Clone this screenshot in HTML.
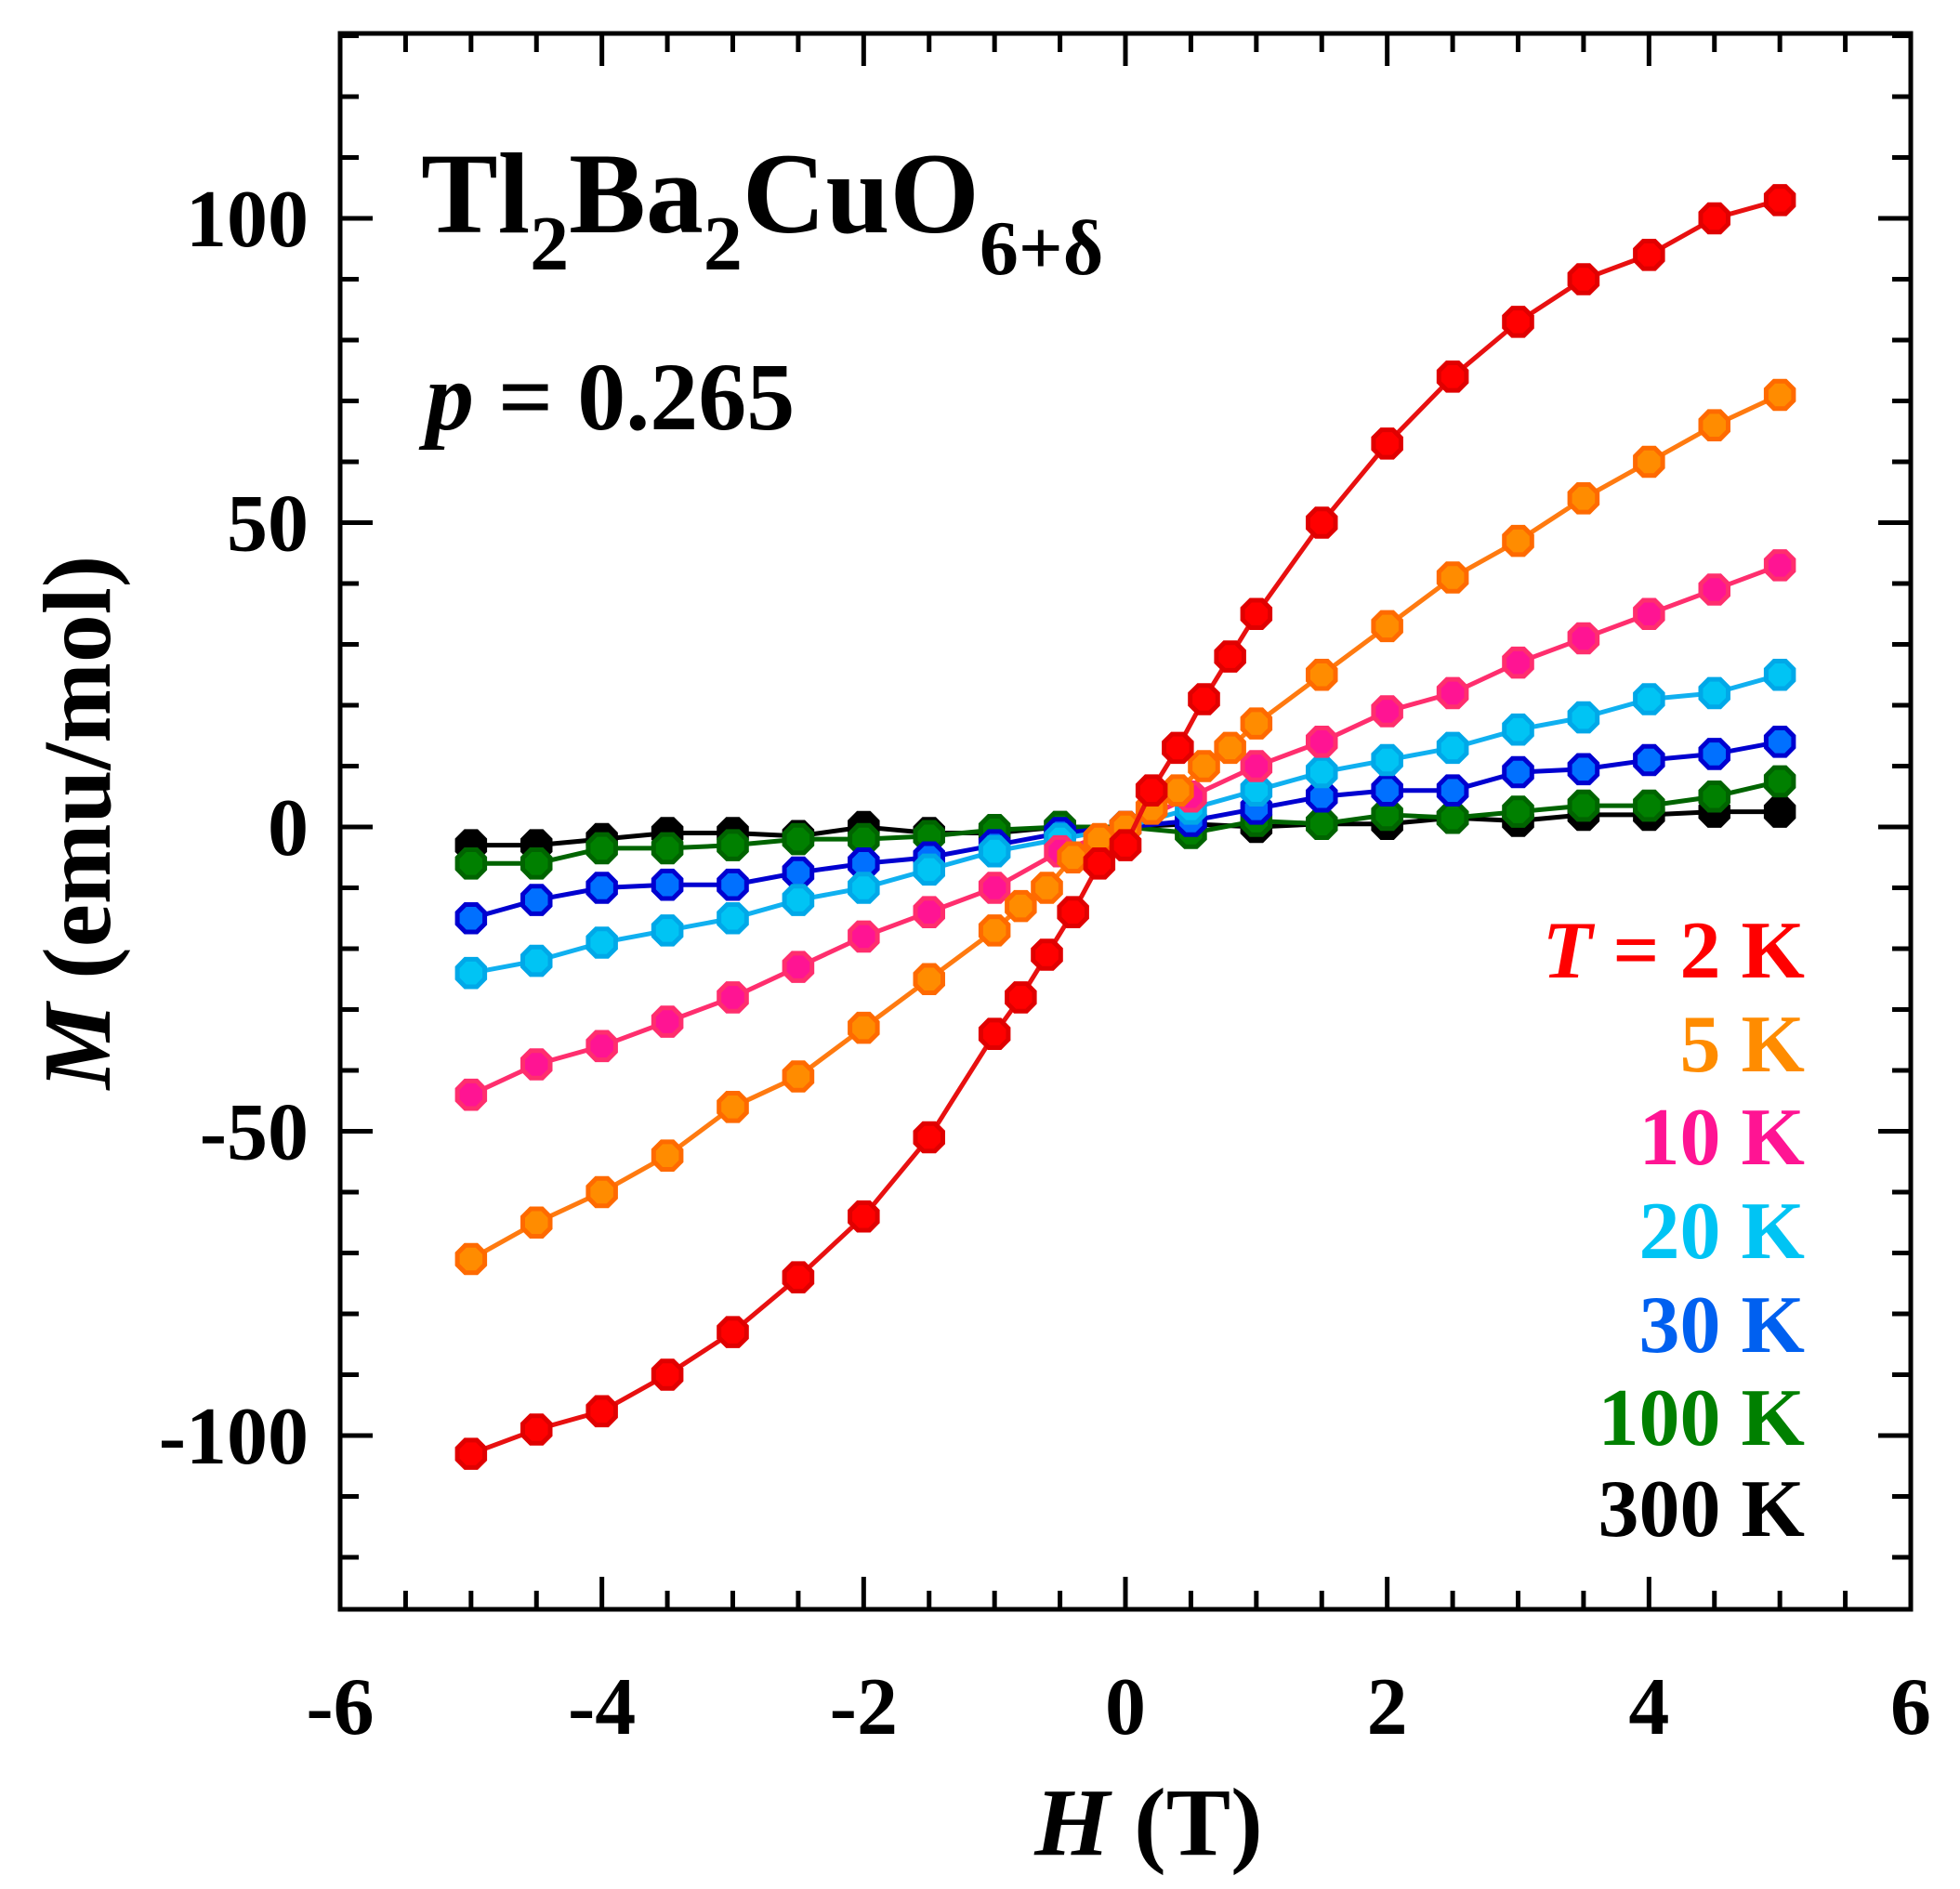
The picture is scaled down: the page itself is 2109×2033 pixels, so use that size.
<!DOCTYPE html>
<html><head><meta charset="utf-8"><style>
html,body{margin:0;padding:0;background:#fff}
svg text{font-family:"Liberation Serif",serif;font-weight:bold}
</style></head><body>
<svg id="chart" width="2109" height="2028" viewBox="0 0 2109 2028" xmlns="http://www.w3.org/2000/svg">
<g id="axes"></g>
<g id="series"></g>
<rect x="366" y="36" width="1690" height="1696" fill="none" stroke="#000" stroke-width="5"/>
<text x="453" y="250" font-size="124">Tl<tspan font-size="84" dy="40">2</tspan><tspan dy="-40">Ba</tspan><tspan font-size="84" dy="40">2</tspan><tspan dy="-40">CuO</tspan><tspan font-size="84" dy="45">6+δ</tspan></text>
<text x="458" y="462" font-size="104"><tspan font-style="italic">p</tspan> = 0.265</text>
<text x="1236" y="1996" font-size="104" text-anchor="middle"><tspan font-style="italic">H</tspan> (T)</text>
<text transform="translate(118,885) rotate(-90)" font-size="104" text-anchor="middle"><tspan font-style="italic">M</tspan> (emu/mol)</text>
<g id="legend"></g>
</svg>
<script>
const H2 = [-5,-4.5,-4,-3.5,-3,-2.5,-2,-1.5,-1,-0.8,-0.6,-0.4,-0.2,0,0.2,0.4,0.6,0.8,1,1.5,2,2.5,3,3.5,4,4.5,5];
const M2K = [-103,-99,-96,-90,-83,-74,-64,-51,-34,-28,-21,-14,-6,-3,6,13,21,28,35,50,63,74,83,90,94,100,103];
const M5K = [-71,-65,-60,-54,-46,-41,-33,-25,-17,-13,-10,-5,-2,0,3,6,10,13,17,25,33,41,47,54,60,66,71];
const H = [-5,-4.5,-4,-3.5,-3,-2.5,-2,-1.5,-1,-0.5,0,0.5,1,1.5,2,2.5,3,3.5,4,4.5,5];
const M10K = [-44,-39,-36,-32,-28,-23,-18,-14,-10,-4,0,5,10,14,19,22,27,31,35,39,43];
const M20K = [-24,-22,-19,-17,-15,-12,-10,-7,-4,-2,0,3,6,9,11,13,16,18,21,22,25];
const M30K = [-15,-12,-10,-9.5,-9.5,-7.5,-6,-5,-3,-1,0,1,3,5,6,6,9,9.5,11,12,14];
const M100K = [-6,-6,-3.5,-3.5,-3,-2,-2,-1.5,-0.5,0,0,-1,1,0.5,2,1.5,2.5,3.5,3.5,5,7.5];
const M300K = [-3,-3,-2,-1,-1,-1.5,0,-1,-1,0,0,0.5,0,0.5,0.5,1.5,1,2,2,2.5,2.5];
const xTicks = [-6,-4,-2,0,2,4,6];
const yTicks = [-100,-50,0,50,100];
const legendLabels = ["T = 2 K","5 K","10 K","20 K","30 K","100 K","300 K"];

const NS="http://www.w3.org/2000/svg";
const sx = h => 366 + (h+6)*(1690/12);
const sy = m => 890 - 6.55*m;
function mk(tag, attrs, parent){const e=document.createElementNS(NS,tag);for(const k in attrs)e.setAttribute(k,attrs[k]);parent.appendChild(e);return e;}
const axes=document.getElementById('axes');
for(let i=0;i<=24;i++){
  const h=-6+i*0.5, x=sx(h), major=(i%4===0), L=major?35:20;
  const t1=mk('line',{x1:x,x2:x,y1:1732,y2:1732-L,stroke:'#000','stroke-width':5},axes);
  
  
  const t2=mk('line',{x1:x,x2:x,y1:36,y2:36+L,stroke:'#000','stroke-width':5},axes);
  
  
}
xTicks.forEach(v=>{
  const t=mk('text',{x:sx(v),y:1866,'font-size':88,'text-anchor':'middle'},axes);
  t.textContent=String(v);
  
  
});
for(let m=-120;m<=130;m+=10){
  const y=sy(m), major=(m%50===0), L=major?35:20;
  const t1=mk('line',{x1:366,x2:366+L,y1:y,y2:y,stroke:'#000','stroke-width':5},axes);
  
  
  const t2=mk('line',{x1:2056,x2:2056-L,y1:y,y2:y,stroke:'#000','stroke-width':5},axes);
  
  
}
yTicks.forEach(v=>{
  const t=mk('text',{x:332,y:sy(v)+30,'font-size':88,'text-anchor':'end'},axes);
  t.textContent=String(v);
  
  
});
const seriesDefs=[
 {h:H,m:M300K,fill:'#000',stroke:'#000',line:'#000',name:'series-300k'},
 {h:H,m:M100K,fill:'#008000',stroke:'#006400',line:'#006400',name:'series-100k'},
 {h:H,m:M30K,fill:'#0070ff',stroke:'#0000d0',line:'#0000d0',name:'series-30k'},
 {h:H,m:M20K,fill:'#00c4f4',stroke:'#00a8e8',line:'#10b0f0',name:'series-20k'},
 {h:H,m:M10K,fill:'#ff1493',stroke:'#ff2e6e',line:'#ff2e6e',name:'series-10k'},
 {h:H2,m:M5K,fill:'#ff8c00',stroke:'#ff6a00',line:'#ff7a10',name:'series-5k'},
 {h:H2,m:M2K,fill:'#ff0000',stroke:'#e00000',line:'#e81010',name:'series-2k'}
];
const sg=document.getElementById('series');
function oct(cx,cy,r){let p=[];for(let k=0;k<8;k++){const a=Math.PI/8+k*Math.PI/4;p.push((cx+r*Math.cos(a)).toFixed(1)+','+(cy+r*Math.sin(a)).toFixed(1));}return p.join(' ');}
seriesDefs.forEach(s=>{
  const g=mk('g',{},sg);
  
  
  const pts=s.h.map((h,i)=>sx(h)+','+sy(s.m[i])).join(' ');
  const pl=mk('polyline',{points:pts,fill:'none',stroke:s.line,'stroke-width':5},g);
  
  
  s.h.forEach((h,i)=>{
    const p=mk('polygon',{points:oct(sx(h),sy(s.m[i]),16),fill:s.fill,stroke:s.stroke,'stroke-width':5},g);
    
    
  });
});
const lg=document.getElementById('legend');
const lcol=['#ff0000','#ff8c00','#ff1493','#00c4f4','#0060f0','#008000','#000'];
const ly=[1052,1153,1253,1354,1455,1555,1653];
legendLabels.forEach((l,i)=>{
  const t=mk('text',{x:1942,y:ly[i],'font-size':88,'text-anchor':'end',fill:lcol[i]},lg);
  if(i===0){t.innerHTML='<tspan font-style="italic">T</tspan> = 2 K';}else t.textContent=l;
  
  
});
</script>
</body></html>
